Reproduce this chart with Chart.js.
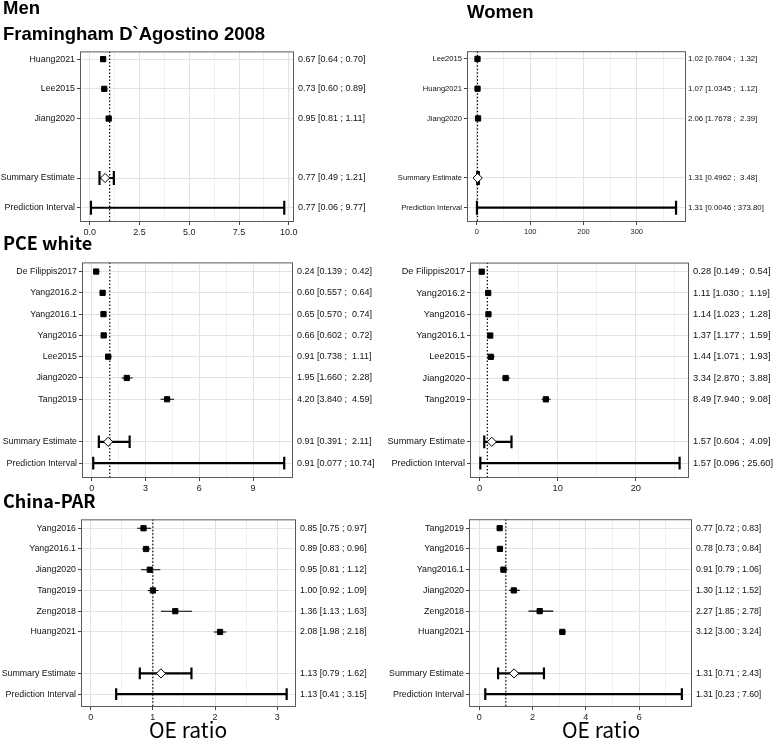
<!DOCTYPE html>
<html>
<head>
<meta charset="utf-8">
<script src="https://cdn.jsdelivr.net/npm/chart.js@4.4.0/dist/chart.umd.min.js"></script>
<style>
  body { margin: 0; background: #fff; }
  #wrap { position: relative; width: 777px; height: 742px; overflow: hidden; }
  canvas { position: absolute; }
</style>
</head>
<body>
<div id="wrap"></div>
<script>
// ---- Men, Framingham D`Agostino 2008
const menFramStudies = ['Huang2021', 'Lee2015', 'Jiang2020'];
const menFramEst = [0.67, 0.73, 0.95];
const menFramLo = [0.64, 0.60, 0.81];
const menFramHi = [0.70, 0.89, 1.11];
const menFramSummary = [0.77, 0.49, 1.21];   // est, lower, upper
const menFramPredict = [0.77, 0.06, 9.77];
const menFramText = ['0.67 [0.64 ; 0.70]', '0.73 [0.60 ; 0.89]', '0.95 [0.81 ; 1.11]',
  '0.77 [0.49 ; 1.21]', '0.77 [0.06 ; 9.77]'];
const menFramTicks = [0, 2.5, 5, 7.5, 10];
const menFramTickLabels = ['0.0', '2.5', '5.0', '7.5', '10.0'];

// ---- Women, Framingham D`Agostino 2008
const womenFramStudies = ['Lee2015', 'Huang2021', 'Jiang2020'];
const womenFramEst = [1.02, 1.07, 2.06];
const womenFramLo = [0.7804, 1.0345, 1.7678];
const womenFramHi = [1.32, 1.12, 2.39];
const womenFramSummary = [1.31, 0.4962, 3.48];
const womenFramPredict = [1.31, 0.0046, 373.80];
const womenFramText = ['1.02 [0.7804 ;  1.32]', '1.07 [1.0345 ;  1.12]', '2.06 [1.7678 ;  2.39]',
  '1.31 [0.4962 ;  3.48]', '1.31 [0.0046 ; 373.80]'];
const womenFramTicks = [0, 100, 200, 300];
const womenFramTickLabels = ['0', '100', '200', '300'];

// ---- Men, PCE white
const menPceStudies = ['De Filippis2017', 'Yang2016.2', 'Yang2016.1', 'Yang2016', 'Lee2015', 'Jiang2020', 'Tang2019'];
const menPceEst = [0.24, 0.60, 0.65, 0.66, 0.91, 1.95, 4.20];
const menPceLo = [0.139, 0.557, 0.570, 0.602, 0.738, 1.660, 3.840];
const menPceHi = [0.42, 0.64, 0.74, 0.72, 1.11, 2.28, 4.59];
const menPceSummary = [0.91, 0.391, 2.11];
const menPcePredict = [0.91, 0.077, 10.74];
const menPceText = ['0.24 [0.139 ;  0.42]', '0.60 [0.557 ;  0.64]', '0.65 [0.570 ;  0.74]',
  '0.66 [0.602 ;  0.72]', '0.91 [0.738 ;  1.11]', '1.95 [1.660 ;  2.28]', '4.20 [3.840 ;  4.59]',
  '0.91 [0.391 ;  2.11]', '0.91 [0.077 ; 10.74]'];
const menPceTicks = [0, 3, 6, 9];
const menPceTickLabels = ['0', '3', '6', '9'];

// ---- Women, PCE white
const womenPceStudies = ['De Filippis2017', 'Yang2016.2', 'Yang2016', 'Yang2016.1', 'Lee2015', 'Jiang2020', 'Tang2019'];
const womenPceEst = [0.28, 1.11, 1.14, 1.37, 1.44, 3.34, 8.49];
const womenPceLo = [0.149, 1.030, 1.023, 1.177, 1.071, 2.870, 7.940];
const womenPceHi = [0.54, 1.19, 1.28, 1.59, 1.93, 3.88, 9.08];
const womenPceSummary = [1.57, 0.604, 4.09];
const womenPcePredict = [1.57, 0.096, 25.60];
const womenPceText = ['0.28 [0.149 ;  0.54]', '1.11 [1.030 ;  1.19]', '1.14 [1.023 ;  1.28]',
  '1.37 [1.177 ;  1.59]', '1.44 [1.071 ;  1.93]', '3.34 [2.870 ;  3.88]', '8.49 [7.940 ;  9.08]',
  '1.57 [0.604 ;  4.09]', '1.57 [0.096 ; 25.60]'];
const womenPceTicks = [0, 10, 20];
const womenPceTickLabels = ['0', '10', '20'];

// ---- Men, China-PAR
const menParStudies = ['Yang2016', 'Yang2016.1', 'Jiang2020', 'Tang2019', 'Zeng2018', 'Huang2021'];
const menParEst = [0.85, 0.89, 0.95, 1.00, 1.36, 2.08];
const menParLo = [0.75, 0.83, 0.81, 0.92, 1.13, 1.98];
const menParHi = [0.97, 0.96, 1.12, 1.09, 1.63, 2.18];
const menParSummary = [1.13, 0.79, 1.62];
const menParPredict = [1.13, 0.41, 3.15];
const menParText = ['0.85 [0.75 ; 0.97]', '0.89 [0.83 ; 0.96]', '0.95 [0.81 ; 1.12]',
  '1.00 [0.92 ; 1.09]', '1.36 [1.13 ; 1.63]', '2.08 [1.98 ; 2.18]',
  '1.13 [0.79 ; 1.62]', '1.13 [0.41 ; 3.15]'];
const menParTicks = [0, 1, 2, 3];
const menParTickLabels = ['0', '1', '2', '3'];

// ---- Women, China-PAR
const womenParStudies = ['Tang2019', 'Yang2016', 'Yang2016.1', 'Jiang2020', 'Zeng2018', 'Huang2021'];
const womenParEst = [0.77, 0.78, 0.91, 1.30, 2.27, 3.12];
const womenParLo = [0.72, 0.73, 0.79, 1.12, 1.85, 3.00];
const womenParHi = [0.83, 0.84, 1.06, 1.52, 2.78, 3.24];
const womenParSummary = [1.31, 0.71, 2.43];
const womenParPredict = [1.31, 0.23, 7.60];
const womenParText = ['0.77 [0.72 ; 0.83]', '0.78 [0.73 ; 0.84]', '0.91 [0.79 ; 1.06]',
  '1.30 [1.12 ; 1.52]', '2.27 [1.85 ; 2.78]', '3.12 [3.00 ; 3.24]',
  '1.31 [0.71 ; 2.43]', '1.31 [0.23 ; 7.60]'];
const womenParTicks = [0, 2, 4, 6];
const womenParTickLabels = ['0', '2', '4', '6'];

const refLine = 1;
const FONT = '"Liberation Sans", Arial, Helvetica, sans-serif';
const CJK = '"Noto Sans CJK SC", sans-serif';

const panelBorder = {
  id: 'panelBorder',
  afterDatasetsDraw(chart) {
    const a = chart.chartArea, c = chart.ctx;
    c.save();
    c.strokeStyle = '#5a5a5a';
    c.lineWidth = 1;
    c.strokeRect(a.left + 0.5, a.top + 0.5, a.right - a.left - 1, a.bottom - a.top - 1);
    c.restore();
  }
};

function makePanel(p) {
  const n = p.studies.length;
  const pos = p.studies.map((s, i) => i + 1);
  const sumPos = n + 2, predPos = n + 3;
  const rows = pos.concat([sumPos, predPos]);
  const names = p.studies.concat(['Summary Estimate', 'Prediction Interval']);

  const thin = [];
  p.lo.forEach((v, i) => {
    thin.push({x: v, y: pos[i]}, {x: p.hi[i], y: pos[i]}, {x: null, y: null});
  });
  const thick = [
    {x: p.sum[1], y: sumPos}, {x: p.sum[2], y: sumPos}, {x: null, y: null},
    {x: p.pred[1], y: predPos}, {x: p.pred[2], y: predPos}
  ];
  const caps = [
    {x: p.sum[1], y: sumPos}, {x: p.sum[2], y: sumPos},
    {x: p.pred[1], y: predPos}, {x: p.pred[2], y: predPos}
  ];
  const squares = p.est.map((v, i) => ({x: v, y: pos[i]}));
  const diamond = [{x: p.sum[0], y: sumPos}];

  // major ticks + minor grid lines half way (ggplot style)
  const xt = p.ticks.map((v, i) => ({value: v, lab: p.tickLabels[i]}));
  const step = p.ticks[1] - p.ticks[0];
  for (let m = p.ticks[0] - step / 2; m <= p.xMax; m += step) {
    if (m >= p.xMin) xt.push({value: m, minor: true});
  }
  xt.sort((a, b) => a.value - b.value);

  const cv = document.createElement('canvas');
  cv.width = p.box.w; cv.height = p.box.h;
  cv.style.left = p.box.x + 'px'; cv.style.top = p.box.y + 'px';
  document.getElementById('wrap').appendChild(cv);

  new Chart(cv, {
    type: 'scatter',
    data: {
      datasets: [
        {data: diamond, pointStyle: 'rectRot', pointRadius: 4.6, pointBackgroundColor: '#fff',
          pointBorderColor: '#000', pointBorderWidth: 1},
        {data: squares, pointStyle: 'rect', pointRadius: 3.7, pointBackgroundColor: '#000',
          pointBorderColor: '#000', pointBorderWidth: 1},
        {data: caps, pointStyle: 'line', pointRotation: 90, pointRadius: p.cap,
          pointBorderColor: '#000', pointBorderWidth: 2.2},
        {data: thick, showLine: true, spanGaps: false, pointRadius: 0, borderColor: '#000', borderWidth: 2.2},
        {data: thin, showLine: true, spanGaps: false, pointRadius: 0, borderColor: '#000', borderWidth: 1.1},
        {data: [{x: refLine, y: p.yMin}, {x: refLine, y: p.yMax}], showLine: true, pointRadius: 0,
          borderColor: '#000', borderWidth: 1.2, borderDash: [1.5, 2]}
      ]
    },
    options: {
      responsive: false,
      animation: false,
      events: [],
      layout: {padding: {top: p.area.t - p.box.y, left: 0, right: 0, bottom: 0}},
      plugins: {legend: {display: false}, tooltip: {enabled: false}},
      scales: {
        x: {
          type: 'linear', position: 'bottom', min: p.xMin, max: p.xMax,
          afterBuildTicks: s => { s.ticks = xt.map(t => Object.assign({}, t)); },
          afterFit: s => { s.height = p.box.y + p.box.h - p.area.b; },
          ticks: {
            autoSkip: false, maxRotation: 0, padding: 2, color: '#222',
            font: {family: FONT, size: p.fx},
            callback: (v, i, t) => t[i].lab || ''
          },
          grid: {
            color: c => (c.tick && c.tick.minor) ? '#efefef' : '#e2e2e2',
            tickColor: c => (c.tick && c.tick.minor) ? 'rgba(0,0,0,0)' : '#444',
            tickLength: 3
          },
          border: {display: false}
        },
        y: {
          type: 'linear', position: 'left', reverse: true, min: p.yMin, max: p.yMax,
          afterBuildTicks: s => { s.ticks = rows.map(v => ({value: v})); },
          afterFit: s => { s.width = p.area.l - p.box.x; },
          ticks: {autoSkip: false, padding: 2, color: '#111', font: {family: FONT, size: p.fl},
            callback: (v, i) => names[i]},
          grid: {color: '#e2e2e2', tickColor: '#444', tickLength: 3},
          border: {display: false}
        },
        yText: {
          type: 'linear', position: 'right', reverse: true, min: p.yMin, max: p.yMax,
          afterBuildTicks: s => { s.ticks = rows.map(v => ({value: v})); },
          afterFit: s => { s.width = p.box.x + p.box.w - p.area.r; },
          ticks: {autoSkip: false, padding: p.textPad, color: '#111', font: {family: FONT, size: p.ft},
            callback: (v, i) => p.text[i]},
          grid: {display: false, drawTicks: false, drawOnChartArea: false},
          border: {display: false}
        }
      }
    },
    plugins: [panelBorder]
  });
}

makePanel({studies: menFramStudies, est: menFramEst, lo: menFramLo, hi: menFramHi,
  sum: menFramSummary, pred: menFramPredict, text: menFramText,
  ticks: menFramTicks, tickLabels: menFramTickLabels,
  xMin: -0.49, xMax: 10.26, yMin: 0.74, yMax: 6.48, cap: 7, textPad: 4, fl: 8.8, ft: 9, fx: 9,
  area: {l: 80, t: 50, r: 294, b: 222}, box: {x: 0, y: 42, w: 388, h: 200}});

makePanel({studies: womenFramStudies, est: womenFramEst, lo: womenFramLo, hi: womenFramHi,
  sum: womenFramSummary, pred: womenFramPredict, text: womenFramText,
  ticks: womenFramTicks, tickLabels: womenFramTickLabels,
  xMin: -18.7, xMax: 392.5, yMin: 0.74, yMax: 6.48, cap: 7, textPad: 2, fl: 7.6, ft: 7.8, fx: 7.5,
  area: {l: 467, t: 50, r: 686, b: 222}, box: {x: 378, y: 42, w: 399, h: 200}});

makePanel({studies: menPceStudies, est: menPceEst, lo: menPceLo, hi: menPceHi,
  sum: menPceSummary, pred: menPcePredict, text: menPceText,
  ticks: menPceTicks, tickLabels: menPceTickLabels,
  xMin: -0.55, xMax: 11.23, yMin: 0.57, yMax: 10.7, cap: 6.3, textPad: 4, fl: 8.8, ft: 9, fx: 9,
  area: {l: 82, t: 261, r: 293, b: 478}, box: {x: 0, y: 253, w: 388, h: 240}});

makePanel({studies: womenPceStudies, est: womenPceEst, lo: womenPceLo, hi: womenPceHi,
  sum: womenPceSummary, pred: womenPcePredict, text: womenPceText,
  ticks: womenPceTicks, tickLabels: womenPceTickLabels,
  xMin: -1.22, xMax: 26.8, yMin: 0.57, yMax: 10.7, cap: 6.3, textPad: 4, fl: 9.2, ft: 9.3, fx: 9.3,
  area: {l: 470, t: 261, r: 689, b: 478}, box: {x: 375, y: 253, w: 402, h: 240}});

makePanel({studies: menParStudies, est: menParEst, lo: menParLo, hi: menParHi,
  sum: menParSummary, pred: menParPredict, text: menParText,
  ticks: menParTicks, tickLabels: menParTickLabels,
  xMin: -0.155, xMax: 3.3, yMin: 0.57, yMax: 9.62, cap: 5.8, textPad: 4, fl: 8.8, ft: 8.9, fx: 9,
  area: {l: 81, t: 518, r: 296, b: 707}, box: {x: 0, y: 510, w: 388, h: 212}});

makePanel({studies: womenParStudies, est: womenParEst, lo: womenParLo, hi: womenParHi,
  sum: womenParSummary, pred: womenParPredict, text: womenParText,
  ticks: womenParTicks, tickLabels: womenParTickLabels,
  xMin: -0.38, xMax: 7.98, yMin: 0.57, yMax: 9.62, cap: 5.8, textPad: 4, fl: 8.9, ft: 8.7, fx: 9,
  area: {l: 469, t: 518, r: 692, b: 707}, box: {x: 375, y: 510, w: 402, h: 212}});

// headings and axis titles, placed on their baselines
const head = document.createElement('canvas');
head.width = 777; head.height = 742;
head.style.left = '0px'; head.style.top = '0px';
document.getElementById('wrap').appendChild(head);
const hc = head.getContext('2d');
hc.fillStyle = '#000';
hc.textBaseline = 'alphabetic';
[
  ['Men', 3, 14, 'bold 18.5px ' + FONT],
  ['Framingham D`Agostino 2008', 3, 40, 'bold 18.5px ' + FONT],
  ['Women', 467, 18, 'bold 18.5px ' + FONT],
  ['PCE white', 3, 250, 'bold 18px ' + CJK],
  ['China-PAR', 3, 508, 'bold 18px ' + CJK],
  ['OE ratio', 149, 738, '21px ' + CJK],
  ['OE ratio', 562, 738, '21px ' + CJK]
].forEach(([t, x, y, f]) => { hc.font = f; hc.fillText(t, x, y); });
</script>
</body>
</html>
